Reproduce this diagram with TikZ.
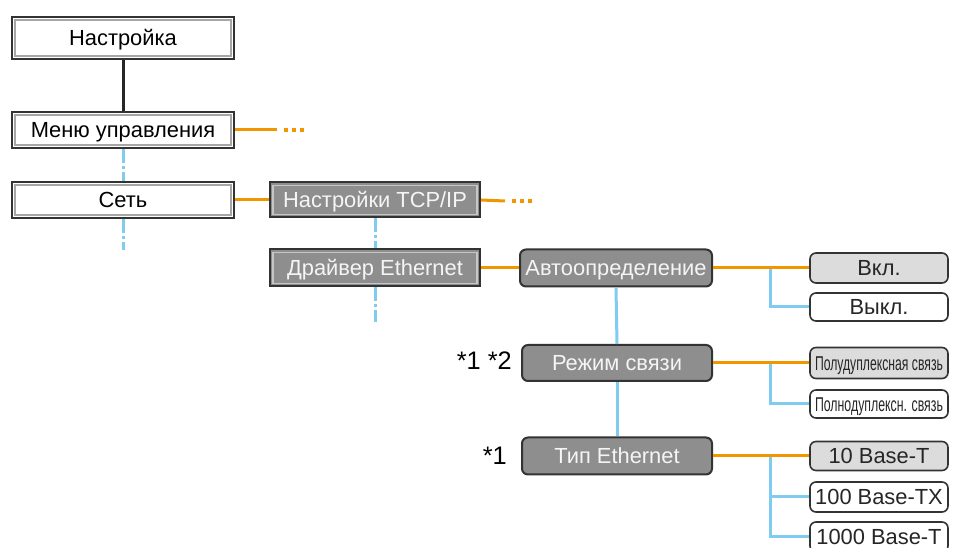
\documentclass[tikz,border=0pt]{standalone}
\usepackage{fontspec}
\usepackage{graphicx}
\setmainfont{Liberation Sans}
\newlength{\upx}
\setlength{\upx}{0.75pt}
\definecolor{orng}{HTML}{F29600}
\definecolor{skyb}{HTML}{80CCF0}
\definecolor{boxgray}{HTML}{8E8E8E}
\definecolor{lightgray}{HTML}{DCDCDC}
\definecolor{darkline}{HTML}{333333}
\tikzset{
  basefont/.style={font=\fontsize{16.4pt}{18pt}\selectfont, text height=11.8pt, text depth=0pt},
  whitebox/.style={basefont, draw=darkline, line width=2\upx, fill=white, text=black, inner sep=0pt,
    path picture={\draw[gray!70, line width=1.2\upx] ([shift={(3\upx,-3\upx)}]path picture bounding box.north west) rectangle ([shift={(-3\upx,3\upx)}]path picture bounding box.south east);}},
  graybox/.style={basefont, draw=darkline, line width=2\upx, fill=boxgray, text=white!92!gray, inner sep=0pt,
    path picture={\draw[gray!45, line width=1.2\upx] ([shift={(3\upx,-3\upx)}]path picture bounding box.north west) rectangle ([shift={(-3\upx,3\upx)}]path picture bounding box.south east);}},
  roundgray/.style={basefont, draw=darkline, line width=2\upx, fill=boxgray, text=white!92!gray, rounded corners=6\upx, inner sep=0pt},
  leafbox/.style={basefont, draw=darkline, line width=1.6\upx, rounded corners=6\upx, inner sep=0pt, minimum width=138\upx, text=black!85},
  leafgray/.style={leafbox, fill=lightgray},
  leafwhite/.style={leafbox, fill=white},
  oline/.style={orng, line width=3\upx},
  odots/.style={orng, line width=4\upx, dash pattern=on 4\upx off 4\upx},
  bline/.style={skyb, line width=3\upx},
  bdash/.style={skyb, line width=3\upx, dash pattern=on 14\upx off 3\upx on 3\upx off 3\upx},
  kline/.style={black!85, line width=3\upx},
  note/.style={font=\fontsize{19pt}{21pt}\selectfont, text height=13.7pt, text depth=0pt, text=black, inner sep=0pt, anchor=east},
}
\newcommand{\squeezetext}[1]{\resizebox{128\upx}{\height}{\fontsize{15pt}{17pt}\selectfont #1}}
\begin{document}
\begin{tikzpicture}[x=0.75pt,y=-0.75pt]
\clip (0,0) rectangle (957,548);
\fill[white] (0,0) rectangle (957,548);

% left column
\node[whitebox, minimum width=222\upx, minimum height=42\upx] (n1) at (123,38) {Настройка};
\node[whitebox, minimum width=222\upx, minimum height=36\upx] (n2) at (123,130) {Меню управления};
\node[whitebox, minimum width=222\upx, minimum height=36\upx] (n3) at (123,200) {Сеть};

% second column
\node[graybox, minimum width=210\upx, minimum height=35\upx] (n4) at (375,200) {Настройки TCP/IP};
\node[graybox, minimum width=210\upx, minimum height=37\upx] (n5) at (375,268) {Драйвер Ethernet};

% third column
\node[roundgray, minimum width=192\upx, minimum height=37\upx] (n6) at (616,268) {Автоопределение};
\node[roundgray, minimum width=190\upx, minimum height=36\upx] (n7) at (617,363) {Режим связи};
\node[roundgray, minimum width=190\upx, minimum height=37\upx] (n8) at (617,456) {Тип Ethernet};

\node[note] (s12) at (512,360) {*1 *2};
\node[note] (s1) at (507,455) {*1};

% leaves
\node[leafgray, minimum height=30\upx] (r1) at (879,268) {Вкл.};
\node[leafwhite, minimum height=28\upx] (r2) at (879,307) {Выкл.};
\node[leafgray, minimum height=31\upx] (r3) at (879,363) {\squeezetext{Полудуплексная связь}};
\node[leafwhite, minimum height=28\upx] (r4) at (879,404) {\squeezetext{Полнодуплексн. связь}};
\node[leafgray, minimum height=29\upx] (r5) at (879,456) {10 Base-T};
\node[leafwhite, minimum height=30\upx] (r6) at (879,497) {100 Base-TX};
\node[leafwhite, minimum height=30\upx] (r7) at (879,537) {1000 Base-T};

% coordinates
\coordinate (d1a) at (277,130);
\coordinate (d1b) at (284,130);
\coordinate (d1c) at (306,130);
\coordinate (d2a) at (505,201);
\coordinate (d2b) at (512,201);
\coordinate (d2c) at (534,201);
\coordinate (e1) at (123,250);
\coordinate (e2) at (375,322);
\coordinate (b1) at (770,268);
\coordinate (b2) at (770,363);
\coordinate (b3) at (770,456);

% connectors
\draw[kline] (n1.south) -- (n2.north);
\draw[bdash] (n2.south) -- (n3.north);
\draw[bdash] (n3.south) -- (e1);
\draw[bdash] (n4.south) -- (n5.north);
\draw[bdash] (n5.south) -- (e2);
\draw[bline] (n6.south) -- (n7.north);
\draw[bline] (n7.south) -- (n8.north);
\draw[bline] (b1) |- (r2.west);
\draw[bline] (b2) |- (r4.west);
\draw[bline] (b3) |- (r6.west);
\draw[bline] (b3) |- (r7.west);

\draw[oline] (n2.east) -- (d1a);
\draw[odots] (d1b) -- (d1c);
\draw[oline] (n3.east) -- (n4.west);
\draw[oline] (n4.east) -- (d2a);
\draw[odots] (d2b) -- (d2c);
\draw[oline] (n5.east) -- (n6.west);
\draw[oline] (n6.east) -- (r1.west);
\draw[oline] (n7.east) -- (r3.west);
\draw[oline] (n8.east) -- (r5.west);
\end{tikzpicture}
\end{document}
